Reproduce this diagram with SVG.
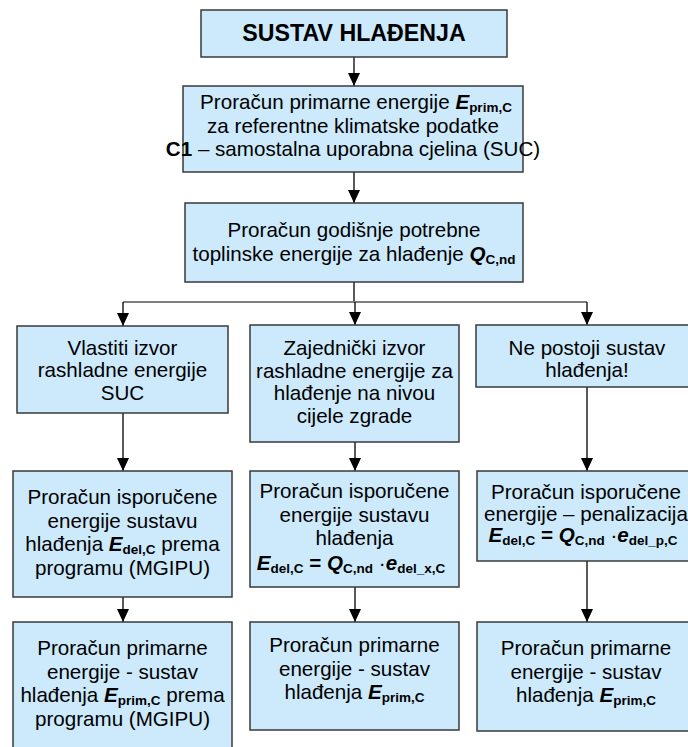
<svg xmlns="http://www.w3.org/2000/svg" width="688" height="747" viewBox="0 0 688 747">
<defs>
<style>
.box{fill:#CCEAFB;stroke:#3a3a3a;stroke-width:1.5}
.t{font-family:"Liberation Sans",Arial,sans-serif;font-size:20.6px;fill:#000;text-anchor:middle}
.title{font-family:"Liberation Sans",Arial,sans-serif;font-size:23.2px;font-weight:bold;fill:#000;text-anchor:middle}
.bi{font-weight:bold;font-style:italic}
.b{font-weight:bold}
.sub{font-weight:bold;font-size:13.5px}
.c{stroke:#000;stroke-width:1.3;fill:none}
.h{stroke:#7f7f7f;stroke-width:2;fill:none}
</style>
<marker id="arr" markerUnits="userSpaceOnUse" markerWidth="13" markerHeight="12" viewBox="0 0 13 12" refX="13" refY="6" orient="auto">
<path d="M0,0 L13,6 L0,12 z" fill="#000"/>
</marker>
</defs>
<rect width="688" height="747" fill="#fff"/>
<g id="connectors">
<line class="c" x1="354" y1="57" x2="354" y2="86" marker-end="url(#arr)"/>
<line class="c" x1="354" y1="172" x2="354" y2="203" marker-end="url(#arr)"/>
<line class="c" x1="354" y1="282" x2="354" y2="302"/>
<line class="h" x1="123" y1="302" x2="587" y2="302"/>
<line class="c" x1="123" y1="302" x2="123" y2="326" marker-end="url(#arr)"/>
<line class="c" x1="355" y1="302" x2="355" y2="325" marker-end="url(#arr)"/>
<line class="c" x1="587" y1="302" x2="587" y2="325" marker-end="url(#arr)"/>
<line class="c" x1="123" y1="413" x2="123" y2="471" marker-end="url(#arr)"/>
<line class="c" x1="355" y1="442" x2="355" y2="471" marker-end="url(#arr)"/>
<line class="c" x1="587" y1="387" x2="587" y2="471" marker-end="url(#arr)"/>
<line class="c" x1="123" y1="597" x2="123" y2="622" marker-end="url(#arr)"/>
<line class="c" x1="355" y1="587" x2="355" y2="622" marker-end="url(#arr)"/>
<line class="c" x1="587" y1="561" x2="587" y2="622" marker-end="url(#arr)"/>
</g>
<g id="n-title">
<rect class="box" x="201" y="10" width="306" height="47"/>
<text class="title" x="354" y="41">SUSTAV HLAĐENJA</text>
</g>
<g id="n-primarna">
<rect class="box" x="183" y="86" width="340" height="86"/>
<text class="t" x="356" y="109">Proračun primarne energije <tspan class="bi">E</tspan><tspan class="sub" dy="3">prim,C</tspan></text>
<text class="t" x="353" y="132.5">za referentne klimatske podatke</text>
<text class="t" x="353" y="156"><tspan class="b">C1</tspan> – samostalna uporabna cjelina (SUC)</text>
</g>
<g id="n-potrebna">
<rect class="box" x="185" y="203" width="338" height="79"/>
<text class="t" x="354" y="236.5">Proračun godišnje potrebne</text>
<text class="t" x="354" y="261">toplinske energije za hlađenje <tspan class="bi">Q</tspan><tspan class="sub" dy="3">C,nd</tspan></text>
</g>
<g id="n-vlastiti">
<rect class="box" x="17" y="326" width="211" height="87"/>
<text class="t" x="122.5" y="355">Vlastiti izvor</text>
<text class="t" x="122.5" y="377">rashladne energije</text>
<text class="t" x="122.5" y="399.5">SUC</text>
</g>
<g id="n-zajednicki">
<rect class="box" x="250" y="325" width="209" height="117"/>
<text class="t" x="354.5" y="355">Zajednički izvor</text>
<text class="t" x="354.5" y="377.5">rashladne energije za</text>
<text class="t" x="354.5" y="400">hlađenje na nivou</text>
<text class="t" x="354.5" y="423">cijele zgrade</text>
</g>
<g id="n-nepostoji">
<rect class="box" x="476" y="325" width="222" height="62"/>
<text class="t" x="587" y="355">Ne postoji sustav</text>
<text class="t" x="587" y="377">hlađenja!</text>
</g>
<g id="n-isporucena-1">
<rect class="box" x="13" y="471" width="219" height="126"/>
<text class="t" x="122.5" y="504">Proračun isporučene</text>
<text class="t" x="122.5" y="527.5">energije sustavu</text>
<text class="t" x="122.5" y="551">hlađenja <tspan class="bi">E</tspan><tspan class="sub" dy="3">del,C</tspan><tspan dy="-3"> prema</tspan></text>
<text class="t" x="122.5" y="575">programu (MGIPU)</text>
</g>
<g id="n-isporucena-2">
<rect class="box" x="250" y="471" width="209" height="116"/>
<text class="t" x="354.5" y="498">Proračun isporučene</text>
<text class="t" x="354.5" y="521.5">energije sustavu</text>
<text class="t" x="354.5" y="545">hlađenja</text>
<text class="t" x="351" y="570"><tspan class="bi">E</tspan><tspan class="sub" dy="3">del,C</tspan><tspan class="b" dy="-3"> = </tspan><tspan class="bi">Q</tspan><tspan class="sub" dy="3">C,nd</tspan><tspan dy="-3"> ·</tspan><tspan class="bi">e</tspan><tspan class="sub" dy="3">del_x,C</tspan></text>
</g>
<g id="n-isporucena-3">
<rect class="box" x="477" y="471" width="221" height="90"/>
<text class="t" x="586" y="498.5">Proračun isporučene</text>
<text class="t" x="586" y="520.5">energije – penalizacija</text>
<text class="t" x="583" y="542"><tspan class="bi">E</tspan><tspan class="sub" dy="3">del,C</tspan><tspan class="b" dy="-3"> = </tspan><tspan class="bi">Q</tspan><tspan class="sub" dy="3">C,nd</tspan><tspan dy="-3"> ·</tspan><tspan class="bi">e</tspan><tspan class="sub" dy="3">del_p,C</tspan></text>
</g>
<g id="n-primarna-1">
<rect class="box" x="13" y="622" width="219" height="135"/>
<text class="t" x="122.5" y="655">Proračun primarne</text>
<text class="t" x="122.5" y="678.5">energije - sustav</text>
<text class="t" x="122.5" y="702">hlađenja <tspan class="bi">E</tspan><tspan class="sub" dy="3">prim,C</tspan><tspan dy="-3"> prema</tspan></text>
<text class="t" x="122.5" y="726">programu (MGIPU)</text>
</g>
<g id="n-primarna-2">
<rect class="box" x="250" y="622" width="209" height="108"/>
<text class="t" x="354.5" y="652">Proračun primarne</text>
<text class="t" x="354.5" y="675.5">energije - sustav</text>
<text class="t" x="354.5" y="699">hlađenja <tspan class="bi">E</tspan><tspan class="sub" dy="3">prim,C</tspan></text>
</g>
<g id="n-primarna-3">
<rect class="box" x="477" y="622" width="221" height="109"/>
<text class="t" x="586" y="655">Proračun primarne</text>
<text class="t" x="586" y="678.5">energije - sustav</text>
<text class="t" x="586" y="702">hlađenja <tspan class="bi">E</tspan><tspan class="sub" dy="3">prim,C</tspan></text>
</g>
</svg>
